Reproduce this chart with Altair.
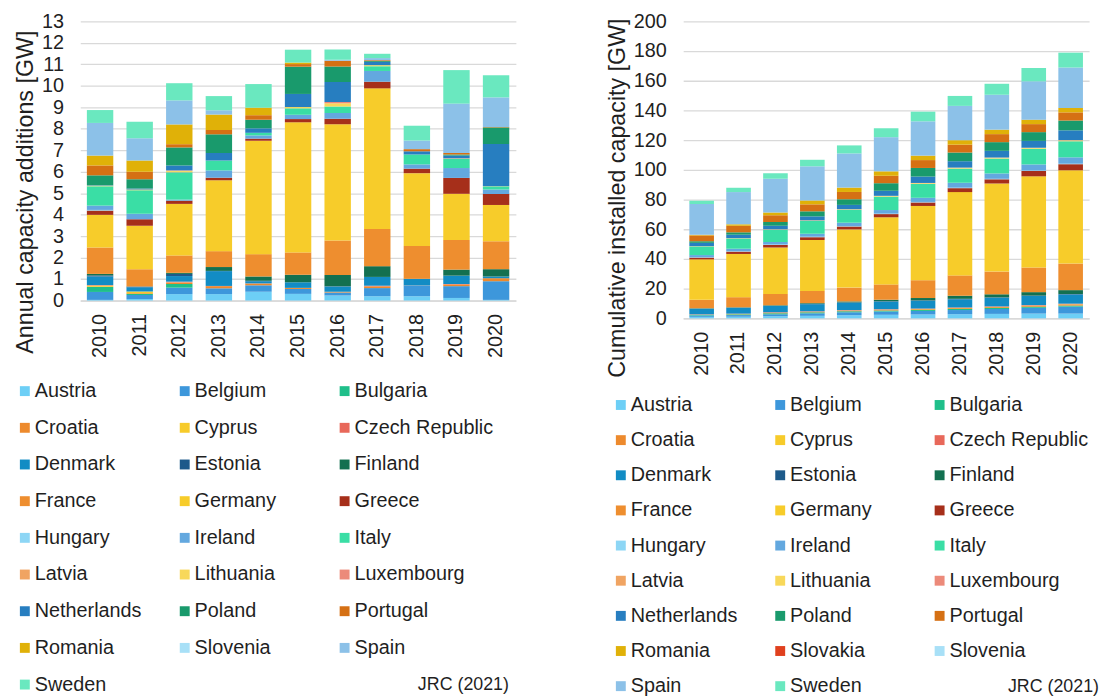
import altair as alt
import pandas as pd

YEARS = [2010, 2011, 2012, 2013, 2014, 2015, 2016, 2017, 2018, 2019, 2020]

COUNTRIES_ANNUAL = ["Austria", "Belgium", "Bulgaria", "Croatia", "Cyprus", "Czech Republic",
                    "Denmark", "Estonia", "Finland", "France", "Germany", "Greece", "Hungary",
                    "Ireland", "Italy", "Latvia", "Lithuania", "Luxembourg", "Netherlands",
                    "Poland", "Portugal", "Romania", "Slovenia", "Spain", "Sweden"]
COUNTRIES_CUMUL = ["Austria", "Belgium", "Bulgaria", "Croatia", "Cyprus", "Czech Republic",
                   "Denmark", "Estonia", "Finland", "France", "Germany", "Greece", "Hungary",
                   "Ireland", "Italy", "Latvia", "Lithuania", "Luxembourg", "Netherlands",
                   "Poland", "Portugal", "Romania", "Slovakia", "Slovenia", "Spain", "Sweden"]

COLORS = {
    "Austria": "#6dcff6", "Belgium": "#3d97db", "Bulgaria": "#1fbf8a", "Croatia": "#ed8a2d",
    "Cyprus": "#f7cb2a", "Czech Republic": "#e8685a", "Denmark": "#128cc4", "Estonia": "#1d5a8a",
    "Finland": "#137050", "France": "#ee8e2f", "Germany": "#f7cc2a", "Greece": "#a62f1a",
    "Hungary": "#8dd6f5", "Ireland": "#63a8df", "Italy": "#3adea5", "Latvia": "#f0a462",
    "Lithuania": "#f8d85a", "Luxembourg": "#ec8a7a", "Netherlands": "#277ec0", "Poland": "#199a6c",
    "Portugal": "#d57014", "Romania": "#e0b108", "Slovakia": "#e0401e", "Slovenia": "#a8e0f7",
    "Spain": "#8cc1e8", "Sweden": "#6ae8bf",
}

# Annual capacity additions [GW]
ann_austria = [0.03, 0.07, 0.30, 0.30, 0.41, 0.31, 0.23, 0.20, 0.20, 0.12, 0.03]
ann_belgium = [0.37, 0.19, 0.30, 0.27, 0.30, 0.23, 0.15, 0.38, 0.49, 0.55, 0.87]
ann_bulgaria = [0.23, 0.05, 0.17, 0.0, 0.0, 0.0, 0.0, 0.0, 0.0, 0.0, 0.0]
ann_croatia = [0.01, 0.03, 0.05, 0.10, 0.08, 0.05, 0.03, 0.08, 0.0, 0.08, 0.14]
ann_cyprus = [0.06, 0.08, 0.02, 0.0, 0.0, 0.0, 0.0, 0.0, 0.0, 0.0, 0.0]
ann_czech = [0.02, 0.0, 0.04, 0.01, 0.01, 0.0, 0.0, 0.03, 0.01, 0.02, 0.0]
ann_denmark = [0.40, 0.20, 0.26, 0.69, 0.10, 0.26, 0.24, 0.41, 0.31, 0.38, 0.08]
ann_estonia = [0.05, 0.03, 0.10, 0.01, 0.02, 0.0, 0.01, 0.0, 0.0, 0.01, 0.0]
ann_finland = [0.07, 0.0, 0.05, 0.18, 0.20, 0.35, 0.53, 0.50, 0.0, 0.28, 0.34]
ann_france = [1.23, 0.81, 0.81, 0.74, 1.04, 1.04, 1.61, 1.73, 1.53, 1.38, 1.30]
ann_germany = [1.52, 2.02, 2.40, 3.30, 5.28, 6.06, 5.41, 6.55, 3.39, 2.15, 1.69]
ann_greece = [0.20, 0.31, 0.15, 0.12, 0.10, 0.15, 0.26, 0.31, 0.21, 0.74, 0.51]
ann_hungary = [0.03, 0.0, 0.0, 0.0, 0.0, 0.0, 0.0, 0.0, 0.0, 0.0, 0.0]
ann_ireland = [0.20, 0.25, 0.05, 0.34, 0.15, 0.20, 0.26, 0.50, 0.20, 0.46, 0.21]
ann_italy = [0.90, 1.10, 1.27, 0.46, 0.12, 0.30, 0.31, 0.22, 0.46, 0.44, 0.15]
ann_latvia = [0.0, 0.0, 0.02, 0.0, 0.0, 0.0, 0.0, 0.0, 0.0, 0.0, 0.0]
ann_lithuania = [0.03, 0.03, 0.05, 0.0, 0.0, 0.06, 0.15, 0.05, 0.0, 0.0, 0.0]
ann_luxembourg = [0.0, 0.0, 0.02, 0.0, 0.0, 0.0, 0.05, 0.0, 0.0, 0.02, 0.01]
ann_netherlands = [0.02, 0.05, 0.23, 0.35, 0.21, 0.61, 0.94, 0.15, 0.15, 0.12, 1.96]
ann_poland = [0.46, 0.43, 0.84, 0.87, 0.40, 1.27, 0.72, 0.04, 0.0, 0.05, 0.77]
ann_portugal = [0.46, 0.35, 0.15, 0.20, 0.21, 0.12, 0.26, 0.04, 0.10, 0.07, 0.02]
ann_romania = [0.46, 0.52, 0.92, 0.72, 0.35, 0.07, 0.0, 0.0, 0.0, 0.0, 0.0]
ann_slovenia = [0.0, 0.0, 0.0, 0.0, 0.0, 0.0, 0.0, 0.0, 0.0, 0.0, 0.0]
ann_spain = [1.52, 1.04, 1.12, 0.20, 0.0, 0.0, 0.05, 0.10, 0.40, 2.30, 1.38]
ann_sweden = [0.60, 0.77, 0.80, 0.66, 1.10, 0.60, 0.48, 0.20, 0.69, 1.56, 1.03]

# Cumulative installed capacity [GW]
cum_austria = [1.0, 1.1, 1.4, 1.7, 2.1, 2.4, 2.6, 2.8, 3.0, 3.2, 3.2]
cum_belgium = [0.9, 1.1, 1.4, 1.7, 2.0, 2.2, 2.4, 2.8, 3.3, 3.9, 4.7]
cum_bulgaria = [0.38, 0.5, 0.67, 0.68, 0.69, 0.7, 0.7, 0.7, 0.7, 0.7, 0.7]
cum_croatia = [0.09, 0.13, 0.18, 0.25, 0.35, 0.42, 0.48, 0.58, 0.58, 0.65, 0.8]
cum_cyprus = [0.08, 0.13, 0.15, 0.15, 0.15, 0.16, 0.16, 0.16, 0.16, 0.16, 0.16]
cum_czech = [0.22, 0.22, 0.26, 0.27, 0.28, 0.28, 0.28, 0.31, 0.32, 0.34, 0.34]
cum_denmark = [3.8, 3.9, 4.2, 4.8, 4.9, 5.1, 5.2, 5.5, 5.8, 6.1, 6.2]
cum_estonia = [0.15, 0.18, 0.27, 0.28, 0.3, 0.3, 0.31, 0.31, 0.31, 0.32, 0.32]
cum_finland = [0.2, 0.2, 0.29, 0.45, 0.63, 1.0, 1.56, 2.07, 2.04, 2.28, 2.59]
cum_france = [5.7, 6.8, 7.6, 8.2, 9.3, 10.3, 12.0, 13.7, 15.3, 16.6, 17.9]
cum_germany = [27.2, 29.1, 31.3, 34.3, 39.2, 45.2, 50.0, 56.1, 59.3, 61.4, 62.8]
cum_greece = [1.2, 1.6, 1.75, 1.87, 1.98, 2.15, 2.37, 2.65, 2.84, 3.58, 4.1]
cum_hungary = [0.3, 0.33, 0.33, 0.33, 0.33, 0.33, 0.33, 0.33, 0.33, 0.33, 0.33]
cum_ireland = [1.4, 1.6, 1.7, 2.0, 2.2, 2.4, 2.8, 3.3, 3.6, 4.1, 4.3]
cum_italy = [5.8, 6.9, 8.1, 8.6, 8.7, 9.0, 9.3, 9.5, 10.0, 10.5, 10.8]
cum_latvia = [0.03, 0.03, 0.06, 0.06, 0.06, 0.07, 0.07, 0.07, 0.07, 0.07, 0.07]
cum_lithuania = [0.15, 0.18, 0.26, 0.28, 0.28, 0.44, 0.5, 0.52, 0.53, 0.53, 0.55]
cum_luxembourg = [0.04, 0.04, 0.06, 0.06, 0.06, 0.06, 0.12, 0.12, 0.12, 0.14, 0.15]
cum_netherlands = [2.2, 2.3, 2.4, 2.7, 2.9, 3.4, 4.3, 4.3, 4.5, 4.6, 6.6]
cum_poland = [1.1, 1.6, 2.5, 3.4, 3.8, 5.1, 5.8, 5.85, 5.86, 5.9, 6.6]
cum_portugal = [3.9, 4.4, 4.5, 4.7, 4.9, 5.0, 5.3, 5.3, 5.4, 5.4, 5.5]
cum_romania = [0.46, 1.0, 1.9, 2.6, 2.95, 3.0, 3.0, 3.0, 3.0, 3.0, 3.0]
cum_slovakia = [0.003, 0.003, 0.003, 0.003, 0.003, 0.003, 0.003, 0.003, 0.003, 0.003, 0.003]
cum_slovenia = [0.0, 0.0, 0.0, 0.003, 0.003, 0.003, 0.003, 0.003, 0.003, 0.003, 0.003]
cum_spain = [20.7, 21.7, 22.8, 23.0, 23.0, 23.0, 23.1, 23.1, 23.5, 25.8, 27.2]
cum_sweden = [2.2, 2.9, 3.7, 4.4, 5.4, 6.0, 6.5, 6.7, 7.4, 9.0, 10.0]

ANNUAL = [ann_austria, ann_belgium, ann_bulgaria, ann_croatia, ann_cyprus, ann_czech,
          ann_denmark, ann_estonia, ann_finland, ann_france, ann_germany, ann_greece,
          ann_hungary, ann_ireland, ann_italy, ann_latvia, ann_lithuania, ann_luxembourg,
          ann_netherlands, ann_poland, ann_portugal, ann_romania, ann_slovenia, ann_spain,
          ann_sweden]
CUMUL = [cum_austria, cum_belgium, cum_bulgaria, cum_croatia, cum_cyprus, cum_czech,
         cum_denmark, cum_estonia, cum_finland, cum_france, cum_germany, cum_greece,
         cum_hungary, cum_ireland, cum_italy, cum_latvia, cum_lithuania, cum_luxembourg,
         cum_netherlands, cum_poland, cum_portugal, cum_romania, cum_slovakia, cum_slovenia,
         cum_spain, cum_sweden]


def long_table(countries, series):
    rows = []
    for i, (c, vals) in enumerate(zip(countries, series)):
        for y, v in zip(YEARS, vals):
            rows.append({"year": str(y), "country": c, "value": v, "ord": i})
    return pd.DataFrame(rows)


df_ann = long_table(COUNTRIES_ANNUAL, ANNUAL)
df_cum = long_table(COUNTRIES_CUMUL, CUMUL)

FONT = "Liberation Sans"
TXT = "#1f1f1f"
GRID = "#d9d9d9"


def panel(df, countries, ytitle, ymax, ystep, w, h, title_y, lx, ly, lrowpad, lcolpad, jx, jy):
    color = alt.Color(
        "country:N",
        scale=alt.Scale(domain=countries, range=[COLORS[c] for c in countries]),
        sort=countries,
        legend=alt.Legend(
            orient="none", legendX=lx, legendY=ly, columns=3, direction="horizontal",
            title=None, symbolType="square", symbolSize=100, symbolStrokeWidth=0,
            labelFont=FONT, labelFontSize=20, labelColor=TXT, labelOffset=0,
            labelLimit=400, gridAlign="all", rowPadding=lrowpad, columnPadding=lcolpad,
        ),
    )
    bars = alt.Chart(df).mark_bar().encode(
        x=alt.X("year:N", sort=[str(y) for y in YEARS],
                scale=alt.Scale(paddingInner=0.333, paddingOuter=0.1667),
                axis=alt.Axis(title=None, labelAngle=270, labelFont=FONT, labelFontSize=20,
                              labelColor=TXT, ticks=False, domain=True, domainColor=GRID,
                              domainWidth=1.5, labelPadding=13, grid=False)),
        y=alt.Y("value:Q", stack="zero",
                scale=alt.Scale(domain=[0, ymax], nice=False),
                axis=alt.Axis(title=ytitle, values=list(range(0, ymax + 1, ystep)),
                              grid=True, gridColor=GRID, gridWidth=1.3, domain=False,
                              ticks=False, labelFont=FONT, labelFontSize=20, labelColor=TXT,
                              labelPadding=17, titleFont=FONT, titleFontSize=23.5,
                              titleFontWeight="normal", titleColor=TXT, titlePadding=4,
                              titleY=title_y)),
        color=color,
        order=alt.Order("ord:Q", sort="ascending"),
    )
    note = alt.Chart(pd.DataFrame({"t": ["JRC (2021)"]})).mark_text(
        font=FONT, fontSize=18, color=TXT, align="right", baseline="middle"
    ).encode(text="t:N", x=alt.value(jx), y=alt.value(jy))
    return alt.layer(bars, note).properties(width=w, height=h)


left = panel(df_ann, COUNTRIES_ANNUAL, "Annual capacity additions [GW]", 13, 1,
             440, 282, 172, -66, 363.5, 17.05, 0.5, 433, 670)
right = panel(df_cum, COUNTRIES_CUMUL, "Cumulative installed capacity [GW]", 200, 20,
              410, 300, 178, -73, 377.5, 15.5, 0, 420, 672)

chart = alt.hconcat(left, right, spacing=90).resolve_scale(color="independent").properties(
    padding={"left": 5, "top": 0, "right": 0, "bottom": 0}
).configure_view(stroke=None)

chart.save("out.html", embed_options={"renderer": "svg", "actions": False})
